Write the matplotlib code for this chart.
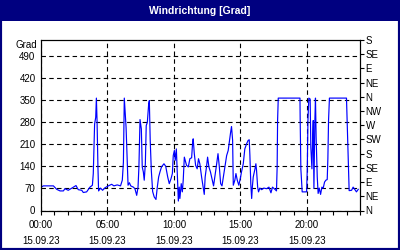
import matplotlib
matplotlib.use('Agg')
import matplotlib.pyplot as plt
from matplotlib.patches import Rectangle

# minutes since 00:00 on 15.09.23 and wind direction in degrees
minutes = [0, 11, 33, 56, 71, 86, 101, 108, 123, 146, 158, 168, 184, 191, 206, 221,
           232, 236, 242, 247, 250, 253, 257, 260, 269, 278, 289, 304, 319, 329, 344,
           359, 367, 372, 376, 381, 384, 390, 393, 399, 405, 417, 424, 432, 438, 442,
           447, 453, 457, 462, 466, 471, 475, 480, 486, 489, 493, 498, 504, 511, 519,
           525, 531, 537, 544, 555, 563, 572, 579, 587, 593, 597, 602, 606, 611, 615,
           620, 624, 627, 633, 638, 642, 647, 651, 657, 665, 672, 680, 684, 687, 692,
           698, 705, 711, 717, 725, 732, 737, 741, 747, 752, 758, 765, 773, 779, 787,
           793, 799, 805, 811, 817, 823, 830, 838, 845, 851, 856, 860, 865, 868, 875,
           880, 886, 893, 901, 905, 913, 920, 928, 935, 940, 943, 947, 951, 954, 958,
           966, 970, 973, 978, 982, 988, 996, 1006, 1018, 1029, 1038, 1045, 1056, 1063,
           1066, 1068, 1071, 1169, 1170, 1173, 1179, 1199, 1202, 1205, 1209, 1215, 1218,
           1223, 1226, 1229, 1232, 1236, 1239, 1242, 1247, 1251, 1256, 1262, 1268, 1274,
           1280, 1286, 1292, 1295, 1298, 1302, 1379, 1382, 1388, 1391, 1402, 1409, 1417,
           1424, 1432]
grad = [74, 78, 78, 78, 67, 62, 62, 69, 64, 74, 79, 66, 64, 57, 59, 74,
        80, 117, 274, 295, 356, 285, 138, 62, 71, 64, 72, 78, 83, 78, 81,
        78, 96, 153, 356, 295, 264, 138, 80, 88, 78, 74, 69, 48, 74, 138,
        288, 258, 138, 122, 96, 148, 269, 279, 337, 348, 222, 127, 60, 43, 35,
        74, 106, 122, 138, 148, 140, 106, 85, 101, 117, 174, 190, 159, 195, 122,
        30, 74, 38, 85, 59, 96, 169, 159, 143, 138, 164, 167, 211, 227, 180,
        143, 132, 164, 148, 106, 74, 51, 106, 138, 169, 138, 122, 96, 78, 117,
        148, 180, 138, 85, 78, 106, 138, 174, 190, 222, 248, 266, 222, 80, 96,
        117, 96, 80, 106, 122, 148, 195, 211, 222, 224, 174, 85, 38, 74, 106,
        132, 148, 127, 74, 59, 71, 66, 71, 69, 74, 56, 74, 67, 62,
        138, 285, 356, 356, 285, 132, 59, 59, 132, 285, 356, 353, 201,
        132, 222, 285, 70, 277, 356, 232, 106, 54, 71, 51, 74, 71,
        90, 96, 98, 165, 285, 356, 356, 285, 132, 63, 64, 74, 66,
        59, 67]

left_ticks = [0, 70, 140, 210, 280, 350, 420, 490]
right_ticks = [0, 45, 90, 135, 180, 225, 270, 315, 360, 405, 450, 495, 540]
right_labels = ['N', 'NE', 'E', 'SE', 'S', 'SW', 'W', 'NW', 'N', 'NE', 'E', 'SE', 'S']
x_ticks = [0, 300, 600, 900, 1200]
x_labels = ['00:00\n15.09.23', '05:00\n15.09.23', '10:00\n15.09.23',
            '15:00\n15.09.23', '20:00\n15.09.23']

navy = '#000080'
plt.rcParams['font.family'] = ['Liberation Sans', 'DejaVu Sans']

fig = plt.figure(figsize=(4, 2.5), dpi=100)
fig.patch.set_facecolor('white')

# title bar and frame
fig.add_artist(Rectangle((0, 1 - 21 / 250), 1, 21 / 250, transform=fig.transFigure,
                         facecolor=navy, edgecolor='none'))
fig.add_artist(Rectangle((0, 0), 1, 1, transform=fig.transFigure, fill=False,
                         edgecolor=navy, linewidth=3))
fig.text(0.5, 1 - 10.5 / 250, 'Windrichtung [Grad]', color='white', fontsize=7.5,
         fontweight='bold', ha='center', va='center')

ax = fig.add_axes([41 / 400, 1 - 210.5 / 250, 319 / 400, 170.5 / 250])
ax.plot(minutes, grad, color='#0000ff', linewidth=0.85)

ax.set_xlim(0, 1440)
ax.set_ylim(0, 540)
ax.set_xticks(x_ticks)
ax.set_xticklabels(x_labels, fontsize=7, linespacing=1.7)
ax.set_xticks(range(0, 1441, 60), minor=True)
ax.set_yticks(left_ticks)
ax.tick_params(axis='y', length=0, pad=4, labelsize=7)
ax.tick_params(axis='x', which='both', length=3, width=0.8, direction='out', pad=4)
ax.grid(True, color='black', linestyle=(0, (4, 3)), linewidth=0.8)
for s in ax.spines.values():
    s.set_linewidth(0.8)

ax2 = ax.twinx()
ax2.set_ylim(0, 540)
ax2.set_yticks(right_ticks)
ax2.set_yticklabels(right_labels, fontsize=7)
ax2.tick_params(axis='y', length=3, width=0.8, pad=1)

fig.text(37 / 400, 1 - 45 / 250, 'Grad', fontsize=7, ha='right', va='center')

fig.savefig('out.png', dpi=100)
